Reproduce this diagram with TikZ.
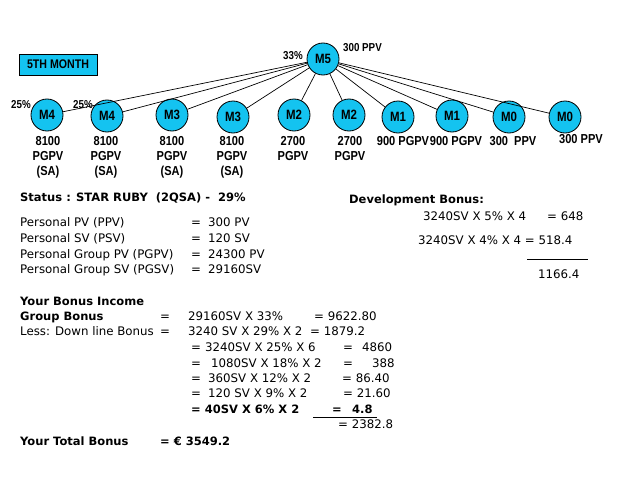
\documentclass[tikz,border=0pt]{standalone}
\usepackage{fontspec}
\setmainfont{DejaVu Sans}
\newfontfamily\arialn[FakeStretch=0.85]{Liberation Sans}
\definecolor{mcyan}{RGB}{20,195,240}
\tikzset{
  mnode/.style={circle,draw=black,line width=0.8pt,fill=mcyan,minimum size=32pt,inner sep=0pt,
    font=\arialn\bfseries\fontsize{13.5}{13.5}\selectfont},
  tlab/.style={anchor=base,inner sep=0pt,font=\arialn\bfseries\fontsize{13}{13}\selectfont},
  slab/.style={anchor=base west,inner sep=0pt,font=\arialn\bfseries\fontsize{11.5}{12}\selectfont},
  txt/.style={anchor=base west,inner sep=0pt,font=\fontsize{11.8}{13}\selectfont},
  btxt/.style={anchor=base west,inner sep=0pt,font=\bfseries\fontsize{11.5}{13}\selectfont},
  edge/.style={draw=black,line width=0.7pt},
  rule/.style={draw=black,line width=0.8pt}
}
\begin{document}
\begin{tikzpicture}[x=1pt,y=-1pt]
\useasboundingbox[fill=white] (0,0) rectangle (638,479);
% month box
\node[draw=black,line width=0.8pt,fill=mcyan,minimum width=78pt,minimum height=21pt,inner sep=0pt,
  font=\arialn\bfseries\fontsize{12.5}{12.5}\selectfont] (month) at (58,64.5) {5TH MONTH};
% tree nodes
\node[mnode] (m5) at (323,59) {M5};
\node[mnode] (m4a) at (47,115) {M4};
\node[mnode] (m4b) at (107,116) {M4};
\node[mnode] (m3a) at (172,115) {M3};
\node[mnode] (m3b) at (233,117) {M3};
\node[mnode] (m2a) at (294,115) {M2};
\node[mnode] (m2b) at (349,115) {M2};
\node[mnode] (m1a) at (398,117) {M1};
\node[mnode] (m1b) at (452,116) {M1};
\node[mnode] (m0a) at (509,117) {M0};
\node[mnode] (m0b) at (565,117) {M0};
\foreach \c in {m4a,m4b,m3a,m3b,m2a,m2b,m1a,m1b,m0a,m0b}{\draw[edge] (m5) -- (\c);}
% small labels
\node[slab] (p33) at (283,59) {33\%};
\node[slab] (p300) at (343,51) {300 PPV};
\node[slab] (p25a) at (11,108) {25\%};
\node[slab] (p25b) at (73,108) {25\%};
% labels under nodes
\node[tlab] (l1a) at (48,145) {8100};
\node[tlab] (l1b) at (48,160) {PGPV};
\node[tlab] (l1c) at (48,175) {(SA)};
\node[tlab] (l2a) at (106,145) {8100};
\node[tlab] (l2b) at (106,160) {PGPV};
\node[tlab] (l2c) at (106,175) {(SA)};
\node[tlab] (l3a) at (172,145) {8100};
\node[tlab] (l3b) at (172,160) {PGPV};
\node[tlab] (l3c) at (172,175) {(SA)};
\node[tlab] (l4a) at (232,145) {8100};
\node[tlab] (l4b) at (232,160) {PGPV};
\node[tlab] (l4c) at (232,175) {(SA)};
\node[tlab] (l5a) at (293,145) {2700};
\node[tlab] (l5b) at (293,160) {PGPV};
\node[tlab] (l6a) at (350,145) {2700};
\node[tlab] (l6b) at (350,160) {PGPV};
\node[tlab] (l7) at (403,145) {900 PGPV};
\node[tlab] (l8) at (456,145) {900 PGPV};
\node[tlab] (l9) at (513,145) {300\ \ PPV};
\node[tlab] (l10) at (581,143) {300 PPV};
% status block
\node[btxt] (st) at (20,201) {Status : STAR RUBY\ \ (2QSA) -\ \ 29\%};
\node[txt] (a1) at (20,226) {Personal PV (PPV)};
\node[txt] (a2) at (20,242) {Personal SV (PSV)};
\node[txt] (a3) at (20,258) {Personal Group PV (PGPV)};
\node[txt] (a4) at (20,273) {Personal Group SV (PGSV)};
\node[txt] (e1) at (191,226) {=};
\node[txt] (e2) at (191,242) {=};
\node[txt] (e3) at (191,258) {=};
\node[txt] (e4) at (191,273) {=};
\node[txt] (v1) at (208,226) {300 PV};
\node[txt] (v2) at (208,242) {120 SV};
\node[txt] (v3) at (208,258) {24300 PV};
\node[txt] (v4) at (208,273) {29160SV};
% development bonus
\node[btxt] (db) at (349,203) {Development Bonus:};
\node[txt] (d1) at (423,220) {3240SV X 5\% X 4};
\node[txt] (d1r) at (547,220) {= 648};
\node[txt] (d2) at (418,244) {3240SV X 4\% X 4 = 518.4};
\coordinate (dl1) at (527,259);
\coordinate (dl2) at (588,259);
\draw[rule] (dl1) -- (dl2);
\node[txt] (dsum) at (538,278) {1166.4};
% bonus income
\node[btxt] (bi) at (20,305) {Your Bonus Income};
\node[btxt] (gb) at (20,320) {Group Bonus};
\node[txt] (gbe) at (160,320) {=};
\node[txt] (gbv) at (188,320) {29160SV X 33\%};
\node[txt] (gbr) at (314,320) {= 9622.80};
\node[txt] (lb) at (20,335) {Less: Down line Bonus};
\node[txt] (lbe) at (160,335) {=};
\node[txt] (lbv) at (188,335) {3240 SV X 29\% X 2};
\node[txt] (lbr) at (310,335) {= 1879.2};
\node[txt] (r1e) at (191,351) {=};
\node[txt] (r1v) at (205,351) {3240SV X 25\% X 6};
\node[txt] (r1q) at (343,351) {=};
\node[txt] (r1r) at (362,351) {4860};
\node[txt] (r2e) at (191,367) {=};
\node[txt] (r2v) at (211,367) {1080SV X 18\% X 2};
\node[txt] (r2q) at (343,367) {=};
\node[txt] (r2r) at (372,367) {388};
\node[txt] (r3e) at (191,382) {=};
\node[txt] (r3v) at (208,382) {360SV X 12\% X 2};
\node[txt] (r3r) at (342,382) {= 86.40};
\node[txt] (r4e) at (191,397) {=};
\node[txt] (r4v) at (208,397) {120 SV X 9\% X 2};
\node[txt] (r4r) at (343,397) {= 21.60};
\node[btxt] (r5v) at (191,413) {= 40SV X 6\% X 2};
\node[btxt] (r5q) at (332,413) {=};
\node[btxt] (r5r) at (352,413) {4.8};
\coordinate (bl1) at (313,417.5);
\coordinate (bl2) at (377,417.5);
\draw[rule] (bl1) -- (bl2);
\node[txt] (tot) at (338,428) {= 2382.8};
\node[btxt] (ytb) at (20,445) {Your Total Bonus};
\node[btxt] (ytv) at (160,445) {= € 3549.2};
\end{tikzpicture}
\end{document}
